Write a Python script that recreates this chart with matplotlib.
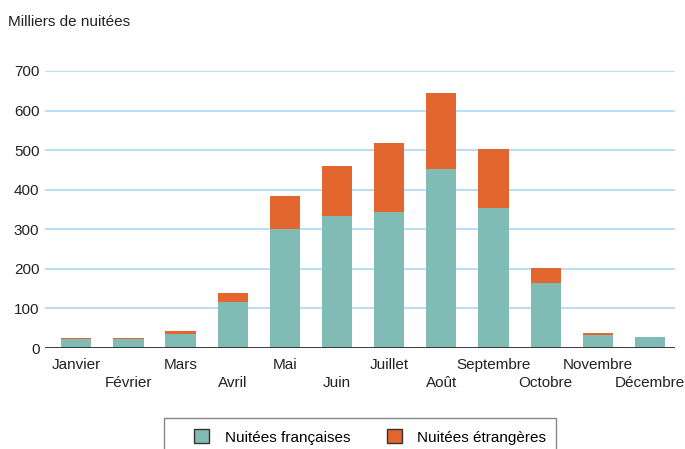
import matplotlib.pyplot as plt
import numpy as np
from matplotlib.patches import Rectangle

plt.rcParams['font.family'] = ['Liberation Sans', 'DejaVu Sans']

# Data (milliers de nuitées)
mois = ['Janvier', 'Février', 'Mars', 'Avril', 'Mai', 'Juin', 'Juillet',
        'Août', 'Septembre', 'Octobre', 'Novembre', 'Décembre']
francaises = [23, 23, 36, 117, 300, 333, 343, 452, 355, 163, 34, 27]
etrangeres = [3, 3, 6, 23, 83, 126, 174, 193, 149, 40, 5, 2]

teal = '#80bbb5'
orange = '#e2662e'
grid_col = '#a4d5f2'
txt = '#222222'

x = np.arange(len(mois))
width = 0.58

fig = plt.figure(figsize=(6.85, 4.49), dpi=100)
ax = fig.add_axes([45 / 685, 1 - 348 / 449, 630 / 685, 277 / 449])

ax.bar(x, francaises, width, color=teal, label='Nuitées françaises', zorder=2)
ax.bar(x, etrangeres, width, bottom=francaises, color=orange,
       label='Nuitées étrangères', zorder=2)

ax.set_xlim(-0.6, 11.48)
ax.set_ylim(0, 700)
ax.set_yticks(range(0, 701, 100))
ax.yaxis.grid(True, color=grid_col, linewidth=1.1, zorder=0)
ax.axhline(0, color=txt, linewidth=1.2, zorder=3)
for s in ax.spines.values():
    s.set_visible(False)

ax.tick_params(axis='both', length=0, labelsize=11, colors=txt)
ax.tick_params(axis='y', pad=4)
ax.set_xticks(x)
ax.set_xticklabels(mois)
for i, t in enumerate(ax.xaxis.get_major_ticks()):
    t.set_pad(7 if i % 2 == 0 else 20)

fig.text(8 / 685, 1 - 22 / 449, 'Milliers de nuitées', fontsize=11,
         color=txt, va='center', ha='left')

# legend box (runs off the bottom edge)
fig.patches.append(Rectangle((164 / 685, -0.05), 392 / 685, 0.05 + 1 - 418 / 449,
                             transform=fig.transFigure, fill=False,
                             edgecolor='#888888', linewidth=1.0))
leg = fig.legend(loc='center left', bbox_to_anchor=(194 / 685, 1 - 437 / 449),
                 ncol=2, fontsize=11, frameon=False, handlelength=1.0,
                 handleheight=1.0, columnspacing=2.4, handletextpad=1.0,
                 borderpad=0, borderaxespad=0)
for p in leg.get_patches():
    p.set_edgecolor('#333333')
    p.set_linewidth(1.0)

fig.savefig('out.png', dpi=100)
